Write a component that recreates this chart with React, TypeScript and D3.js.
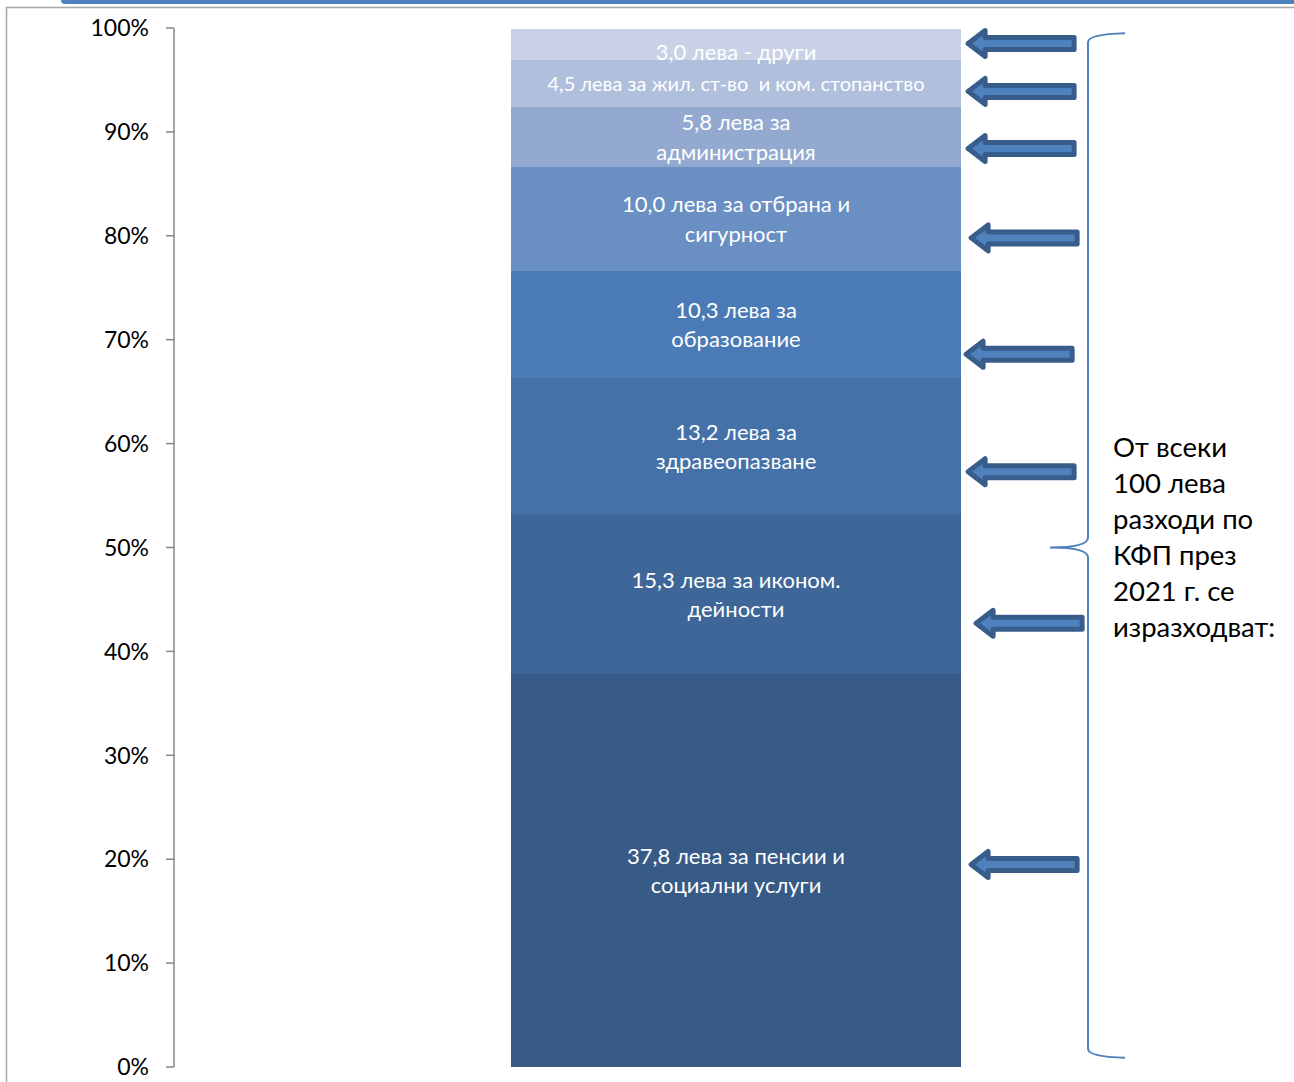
import React from "react";
import * as d3 from "d3";

// ---- data (bottom to top) ----
const categories = [
  "pensions",
  "economy",
  "health",
  "education",
  "defence",
  "administration",
  "housing",
  "other",
];
const values = [37.8, 15.3, 13.2, 10.3, 10.0, 5.8, 4.5, 3.0];
const labelLines = [
  ["37,8 лева за пенсии и", "социални услуги"],
  ["15,3 лева за иконом.", "дейности"],
  ["13,2 лева за", "здравеопазване"],
  ["10,3 лева за", "образование"],
  ["10,0 лева за отбрана и", "сигурност"],
  ["5,8 лева за", "администрация"],
  ["4,5 лева за жил. ст-во  и ком. стопанство"],
  ["3,0 лева - други"],
];
const colors = [
  "#375A87",
  "#3E6698",
  "#4472A8",
  "#4A7BB6",
  "#6A8FC3",
  "#94A9D0",
  "#B0BFDB",
  "#C8D1E5",
];
const yTicks = [0, 10, 20, 30, 40, 50, 60, 70, 80, 90, 100];
// arrow levels (in % of the axis) and their gap to the bar
const arrowLevels = [19.5, 42.7, 57.3, 68.6, 79.8, 88.4, 93.9, 98.5];
const arrowGaps = [10, 15, 7, 5, 10, 7, 7, 7];
const noteLines = ["От всеки", "100 лева", "разходи по", "КФП през", "2021 г. се", "изразходват:"];

const W = 1294;
const H = 1082;
const FONT = "Lato, 'Open Sans', sans-serif";

export default function App() {
  const y = d3.scaleLinear().domain([0, 100]).range([1067, 28]);
  const x = d3.scaleBand().domain(["КФП"]).range([174, 1298]).padding(0.428);
  const bx = x("КФП") as number;
  const bw = x.bandwidth();

  const row: Record<string, number> = {};
  categories.forEach((c, i) => (row[c] = values[i]));
  const series = d3.stack<Record<string, number>>().keys(categories)([row]);

  const barRight = bx + bw;
  const arrowLen = 106;

  const arrowPath = (tipX: number, cy: number) => {
    const headX = tipX + 17;
    const endX = tipX + arrowLen;
    return [
      `M${tipX},${cy}`,
      `L${headX},${cy - 13}`,
      `L${headX},${cy - 6}`,
      `L${endX},${cy - 6}`,
      `L${endX},${cy + 6}`,
      `L${headX},${cy + 6}`,
      `L${headX},${cy + 13}`,
      "Z",
    ].join(" ");
  };

  const bTop = y(99.5);
  const bBot = y(0.9);
  const bMid = y(50);
  const bx0 = 1088;
  const brace = [
    `M1125,${bTop}`,
    `Q${bx0},${bTop + 1} ${bx0},${bTop + 9}`,
    `L${bx0},${bMid - 10}`,
    `Q${bx0},${bMid} 1050,${bMid}`,
    `Q${bx0},${bMid} ${bx0},${bMid + 10}`,
    `L${bx0},${bBot - 9}`,
    `Q${bx0},${bBot - 1} 1125,${bBot}`,
  ].join(" ");

  return (
    <svg
      width={W}
      height={H}
      style={{ position: "absolute", left: 0, top: 0, background: "#fff" }}
      fontFamily={FONT}
    >
      {/* frame */}
      <rect x={61} y={-6} width={1250} height={10} rx={4} fill="#4F81BD" />
      <line x1={6} y1={7.5} x2={W} y2={7.5} stroke="#A6A6A6" strokeWidth={1.5} />
      <line x1={6.5} y1={7} x2={6.5} y2={H} stroke="#A6A6A6" strokeWidth={1.5} />

      {/* axis */}
      <line x1={174} y1={y(100)} x2={174} y2={y(0)} stroke="#868686" strokeWidth={1.5} />
      {yTicks.map((t) => (
        <g key={t}>
          <line x1={166} x2={174} y1={y(t)} y2={y(t)} stroke="#868686" strokeWidth={1.5} />
          <text x={149} y={y(t)} dy="0.36em" textAnchor="end" fontSize={23} fill="#000">
            {t}%
          </text>
        </g>
      ))}

      {/* stacked bar */}
      {series.map((s, i) => {
        const d = s[0];
        const y0 = y(d[1]);
        const y1 = y(d[0]);
        return (
          <rect
            key={s.key}
            x={bx}
            y={y0}
            width={bw}
            height={y1 - y0}
            fill={colors[i]}
            shapeRendering="crispEdges"
          />
        );
      })}

      {/* labels */}
      {series.map((s, i) => {
        const d = s[0];
        const cy = (y(d[0]) + y(d[1])) / 2 + (i === series.length - 1 ? 7 : 0);
        const lines = labelLines[i];
        const lh = 29.5;
        const fs = lines[0].length > 30 ? 20 : 22;
        return (
          <text
            key={s.key}
            x={bx + bw / 2}
            textAnchor="middle"
            fill="#fff"
            fontSize={fs}
          >
            {lines.map((l, j) => (
              <tspan
                key={j}
                x={bx + bw / 2}
                y={cy + (j - (lines.length - 1) / 2) * lh}
                dy="0.36em"
                style={{ whiteSpace: "pre" }}
              >
                {l}
              </tspan>
            ))}
          </text>
        );
      })}

      {/* arrows */}
      {arrowLevels.map((lv, i) => (
        <path
          key={i}
          d={arrowPath(barRight + arrowGaps[i], y(lv))}
          fill="#4F81BD"
          stroke="#385D8A"
          strokeWidth={5}
          strokeLinejoin="round"
        />
      ))}

      {/* brace */}
      <path d={brace} fill="none" stroke="#4F81BD" strokeWidth={2} />

      {/* note */}
      <text fontSize={27.5} fill="#000">
        {noteLines.map((l, j) => (
          <tspan key={j} x={1113} y={447 + j * 36} dy="0.36em">
            {l}
          </tspan>
        ))}
      </text>
    </svg>
  );
}
